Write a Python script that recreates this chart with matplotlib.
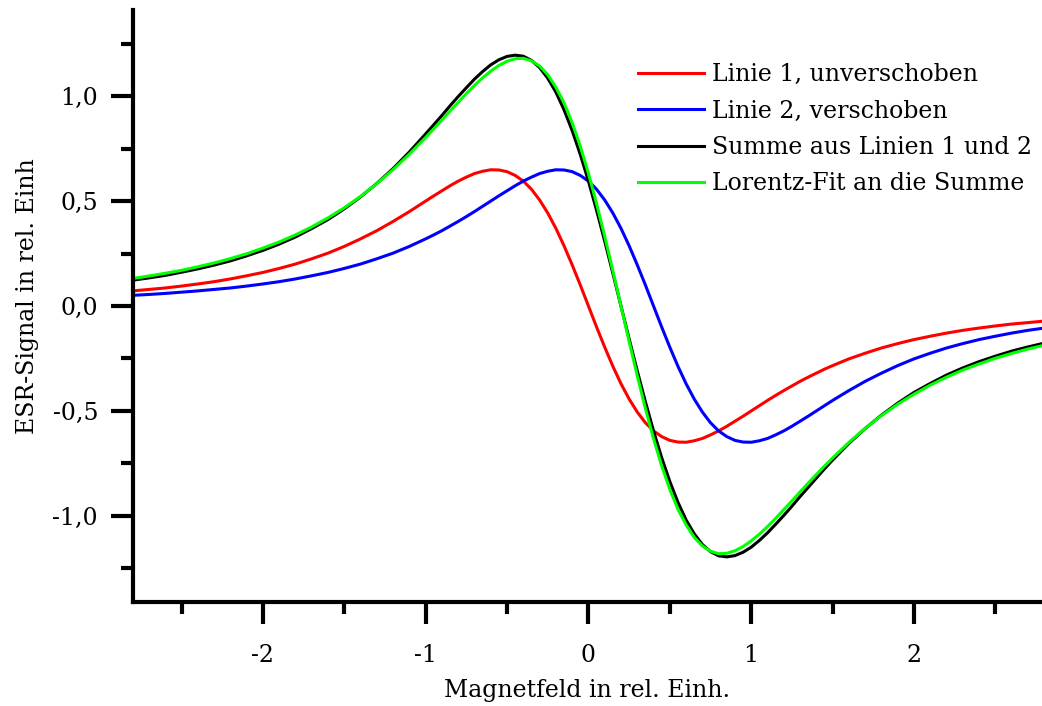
import numpy as np
import matplotlib
matplotlib.use("Agg")
import matplotlib.pyplot as plt
from matplotlib.ticker import MultipleLocator, FuncFormatter

# Magnetfeld-Achse (rel. Einh.): aussen 0,1er Schritte, in der Mitte 0,05er Schritte
feld = np.round(np.concatenate([np.arange(-2.9, -0.99, 0.1),
                                np.arange(-0.95, 1.51, 0.05),
                                np.arange(1.6, 2.81, 0.1)]), 2)

linie1 = [0.066, 0.072, 0.079, 0.086, 0.095, 0.105, 0.116, 0.129, 0.144, 0.160,
          0.179, 0.200, 0.225, 0.252, 0.284, 0.320, 0.359, 0.403, 0.450, 0.500,
          0.525, 0.549, 0.573, 0.595, 0.614, 0.631, 0.642, 0.649, 0.648, 0.640,
          0.622, 0.595, 0.556, 0.505, 0.443, 0.370, 0.287, 0.196, 0.100, 0.000,
          -0.100, -0.196, -0.287, -0.370, -0.443, -0.505, -0.556, -0.595, -0.622, -0.640,
          -0.648, -0.649, -0.642, -0.631, -0.614, -0.595, -0.573, -0.549, -0.525, -0.500,
          -0.475, -0.450, -0.426, -0.403, -0.381, -0.359, -0.339, -0.320, -0.301, -0.284,
          -0.252, -0.225, -0.200, -0.179, -0.160, -0.144, -0.129, -0.116, -0.105, -0.095,
          -0.086, -0.079, -0.072]

linie2 = [0.047, 0.051, 0.055, 0.060, 0.066, 0.072, 0.079, 0.086, 0.095, 0.105,
          0.116, 0.129, 0.144, 0.160, 0.179, 0.200, 0.225, 0.252, 0.284, 0.320,
          0.339, 0.359, 0.381, 0.403, 0.426, 0.450, 0.475, 0.500, 0.525, 0.549,
          0.573, 0.595, 0.614, 0.631, 0.642, 0.649, 0.648, 0.640, 0.622, 0.595,
          0.556, 0.505, 0.443, 0.370, 0.287, 0.196, 0.100, 0.000, -0.100, -0.196,
          -0.287, -0.370, -0.443, -0.505, -0.556, -0.595, -0.622, -0.640, -0.648, -0.649,
          -0.642, -0.631, -0.614, -0.595, -0.573, -0.549, -0.525, -0.500, -0.475, -0.450,
          -0.403, -0.359, -0.320, -0.284, -0.252, -0.225, -0.200, -0.179, -0.160, -0.144,
          -0.129, -0.116, -0.105]

summe = [0.113, 0.123, 0.134, 0.146, 0.161, 0.177, 0.195, 0.215, 0.239, 0.265,
         0.295, 0.329, 0.369, 0.412, 0.463, 0.520, 0.584, 0.655, 0.734, 0.820,
         0.864, 0.908, 0.954, 0.998, 1.040, 1.081, 1.117, 1.149, 1.173, 1.189,
         1.195, 1.190, 1.170, 1.136, 1.085, 1.019, 0.935, 0.836, 0.722, 0.595,
         0.456, 0.309, 0.156, 0.000, -0.156, -0.309, -0.456, -0.595, -0.722, -0.836,
         -0.935, -1.019, -1.085, -1.136, -1.170, -1.190, -1.195, -1.189, -1.173, -1.149,
         -1.117, -1.081, -1.040, -0.998, -0.954, -0.908, -0.864, -0.820, -0.776, -0.734,
         -0.655, -0.584, -0.520, -0.463, -0.412, -0.369, -0.329, -0.295, -0.265, -0.239,
         -0.215, -0.195, -0.177]

fit = [0.120, 0.131, 0.143, 0.156, 0.170, 0.187, 0.205, 0.226, 0.249, 0.276,
       0.305, 0.339, 0.377, 0.420, 0.468, 0.522, 0.583, 0.650, 0.724, 0.803,
       0.844, 0.886, 0.929, 0.970, 1.012, 1.051, 1.087, 1.119, 1.146, 1.166,
       1.178, 1.180, 1.168, 1.143, 1.102, 1.042, 0.968, 0.873, 0.761, 0.632,
       0.488, 0.332, 0.168, 0.000, -0.168, -0.332, -0.488, -0.632, -0.761, -0.873,
       -0.968, -1.042, -1.102, -1.143, -1.168, -1.180, -1.178, -1.166, -1.146, -1.119,
       -1.087, -1.051, -1.012, -0.970, -0.929, -0.886, -0.844, -0.803, -0.763, -0.724,
       -0.650, -0.583, -0.522, -0.468, -0.420, -0.377, -0.339, -0.305, -0.276, -0.249,
       -0.226, -0.205, -0.187]

plt.rcParams['font.family'] = ['DejaVu Serif']
plt.rcParams['font.size'] = 17

fig = plt.figure(figsize=(10.42, 7.06), dpi=100)
ax = fig.add_axes([0.1274, 0.1473, 0.8726, 0.8385])

lw = 2.2
ax.plot(feld, linie1, color='#ff0000', lw=lw, label='Linie 1, unverschoben')
ax.plot(feld, linie2, color='#0000ff', lw=lw, label='Linie 2, verschoben')
ax.plot(feld, summe, color='black', lw=lw, label='Summe aus Linien 1 und 2')
ax.plot(feld, fit, color='#00ff00', lw=lw, label='Lorentz-Fit an die Summe')

ax.set_xlim(-2.8, 2.787)
ax.set_ylim(-1.41, 1.41)

for s in ('top', 'right'):
    ax.spines[s].set_visible(False)
for s in ('left', 'bottom'):
    ax.spines[s].set_linewidth(3)

ax.xaxis.set_major_locator(MultipleLocator(1))
ax.xaxis.set_minor_locator(MultipleLocator(0.5))
ax.yaxis.set_major_locator(MultipleLocator(0.5))
ax.yaxis.set_minor_locator(MultipleLocator(0.25))
ax.xaxis.set_major_formatter(FuncFormatter(lambda v, p: f"{v:.0f}"))
ax.yaxis.set_major_formatter(FuncFormatter(lambda v, p: f"{v:.1f}".replace('.', ',')))

ax.tick_params(which='major', direction='out', length=16, width=3)
ax.tick_params(which='minor', direction='out', length=8.5, width=3)
ax.tick_params(axis='x', which='major', pad=14)
ax.tick_params(axis='y', which='major', pad=9)

ax.set_xlabel('Magnetfeld in rel. Einh.', va='center')
ax.set_ylabel('ESR-Signal in rel. Einh', va='center')
ax.xaxis.set_label_coords((587 - 132.7) / 909.3, (602 - 690) / 592)
ax.yaxis.set_label_coords((27 - 132.7) / 909.3, (602 - 296) / 592)

ax.legend(loc='upper left', bbox_to_anchor=((638 - 132.7) / 909.3, (602 - 63) / 592),
          frameon=False, handlelength=2.8, handletextpad=0.35,
          labelspacing=0.57, borderaxespad=0, borderpad=0)

fig.savefig('out.png', dpi=100)
